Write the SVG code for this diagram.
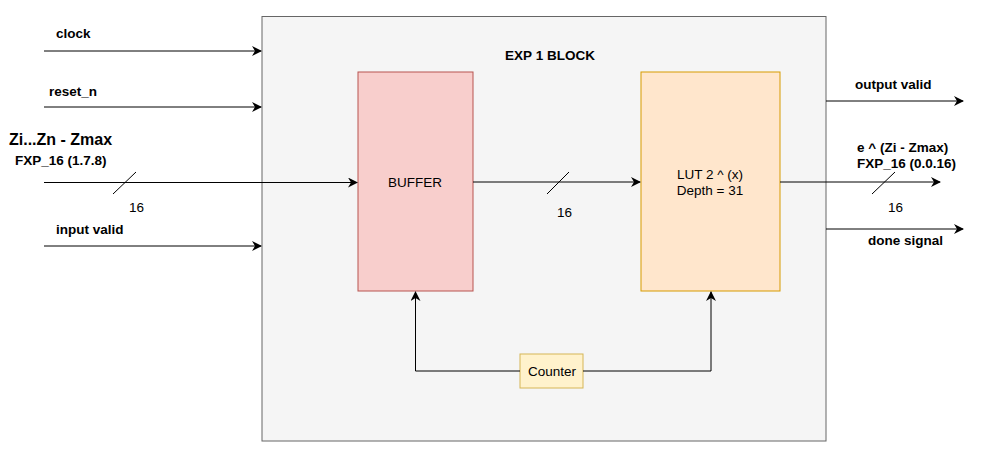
<svg xmlns="http://www.w3.org/2000/svg" width="1006" height="455" viewBox="0 0 1006 455">
<style>
text{font-family:"Liberation Sans",Arial,sans-serif;font-size:13.5px;fill:#000}
.b{font-weight:bold}
.c{text-anchor:middle}
.ln{stroke:#000;stroke-width:1;fill:none}
</style>
<defs>
<marker id="ah" viewBox="0 0 10 10" refX="9" refY="5" markerWidth="10" markerHeight="10" markerUnits="userSpaceOnUse" orient="auto">
<path d="M0,0 L10,5 L0,10 L3,5 Z" fill="#000"/>
</marker>
</defs>
<rect width="1006" height="455" fill="#fff"/>
<g id="exp-block">
<rect x="262" y="16.5" width="564" height="424.5" fill="#f5f5f5" stroke="#666"/>
<text class="b c" x="550" y="60">EXP 1 BLOCK</text>
</g>
<g id="buffer">
<rect x="358" y="72" width="115" height="219" fill="#f8cecc" stroke="#b85450"/>
<text class="c" x="415" y="187">BUFFER</text>
</g>
<g id="lut">
<rect x="641" y="72" width="139" height="219" fill="#ffe6cc" stroke="#d79b00"/>
<text class="c" x="710" y="179">LUT 2 ^ (x)</text>
<text class="c" x="710" y="195">Depth = 31</text>
</g>
<g id="counter">
<rect x="520" y="354" width="63" height="34" fill="#fff2cc" stroke="#d6b656"/>
<text class="c" x="552" y="376">Counter</text>
</g>
<g id="connectors">
<path class="ln" d="M44,51 H261" marker-end="url(#ah)"/>
<path class="ln" d="M44,107 H261" marker-end="url(#ah)"/>
<path class="ln" d="M44,182.5 H357" marker-end="url(#ah)"/>
<path class="ln" d="M44,246 H261" marker-end="url(#ah)"/>
<path class="ln" d="M113,194 L136,172"/>
<path class="ln" d="M473,182 H640" marker-end="url(#ah)"/>
<path class="ln" d="M547,194 L569,172"/>
<path class="ln" d="M780,182 H940" marker-end="url(#ah)"/>
<path class="ln" d="M872,194 L895,172"/>
<path class="ln" d="M826,101 H963" marker-end="url(#ah)"/>
<path class="ln" d="M826,229 H963" marker-end="url(#ah)"/>
<path class="ln" d="M520,371 H415.5 V292" marker-end="url(#ah)"/>
<path class="ln" d="M583,371 H711 V292" marker-end="url(#ah)"/>
</g>
<g id="labels">
<text class="b" x="56" y="38">clock</text>
<text class="b" x="49" y="96">reset_n</text>
<text class="b" x="9" y="145" style="font-size:16px">Zi...Zn - Zmax</text>
<text class="b" x="15" y="165">FXP_16 (1.7.8)</text>
<text x="129" y="212">16</text>
<text class="b" x="56" y="234">input valid</text>
<text x="557" y="217">16</text>
<text class="b" x="855" y="89">output valid</text>
<text class="b" x="857" y="152">e ^ (Zi - Zmax)</text>
<text class="b" x="857" y="168">FXP_16 (0.0.16)</text>
<text x="888" y="212">16</text>
<text class="b" x="868" y="245">done signal</text>
</g>
</svg>
